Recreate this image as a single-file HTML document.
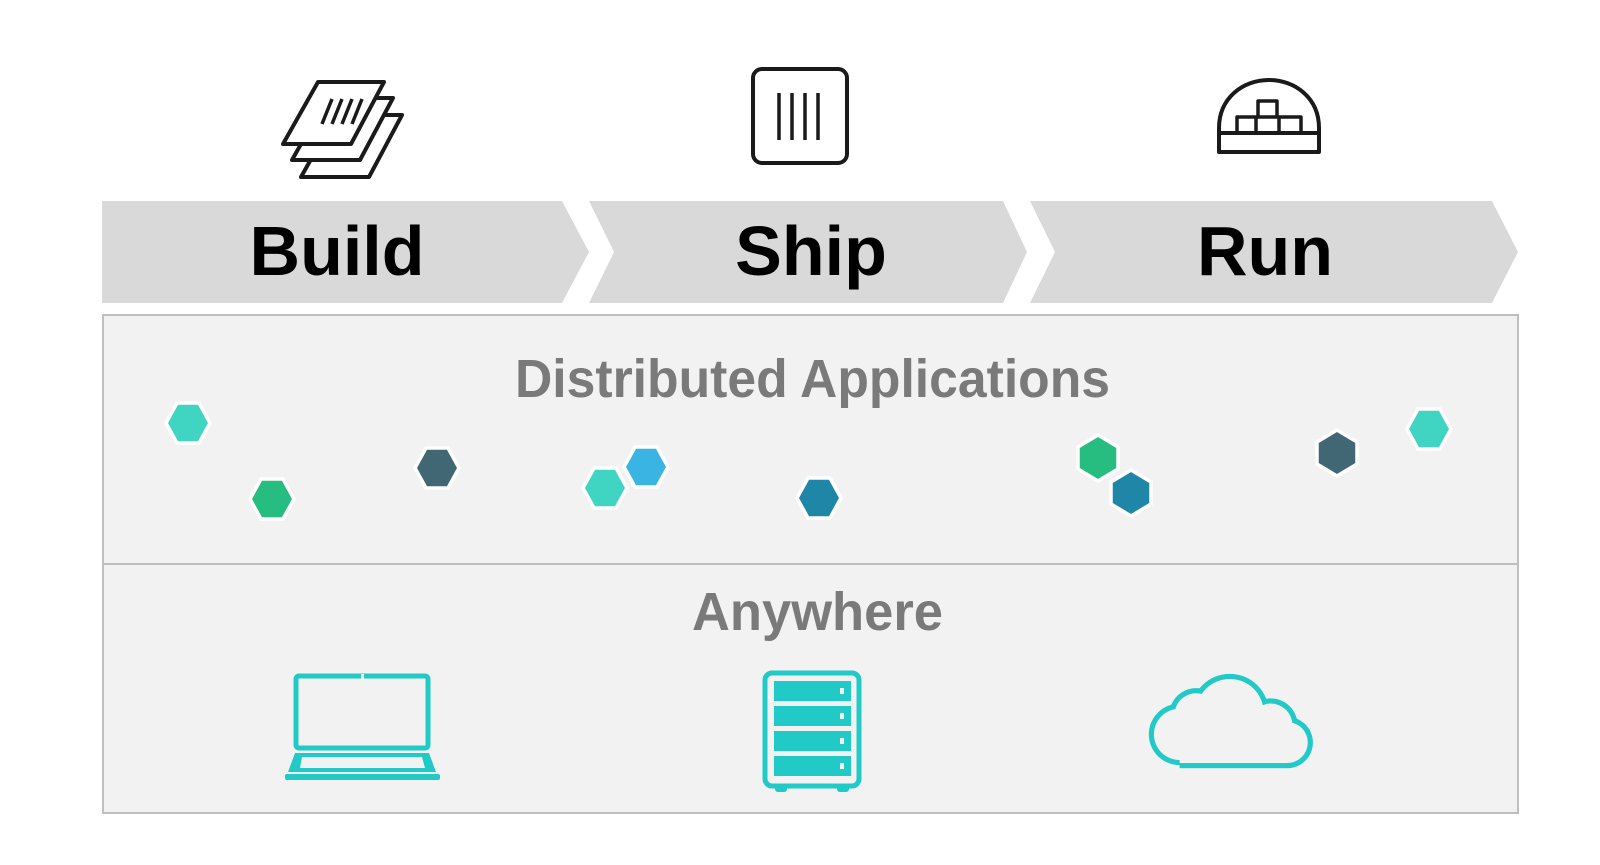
<!DOCTYPE html>
<html><head><meta charset="utf-8"><style>
html,body{margin:0;padding:0;background:#fff;width:1600px;height:865px;overflow:hidden}
svg{display:block}
</style></head><body>
<svg width="1600" height="865" viewBox="0 0 1600 865" xmlns="http://www.w3.org/2000/svg" font-family="Liberation Sans, sans-serif">
<!-- top icons -->
<g fill="#fff" stroke="#1a1a1a" stroke-width="4" stroke-linejoin="round">
  <polygon points="336,115 402,115 369,177 301,177"/>
  <polygon points="327,98 393,98 360,160 292,160"/>
  <polygon points="318,82 384,82 351,144 283,144"/>
  <path d="M332 99 L322 124 M342 99 L332 124 M352 99 L342 124 M362 99 L352 124" stroke-width="3.5" fill="none"/>
  <rect x="753" y="69" width="94" height="94" rx="9" fill="none"/>
  <path d="M779 93 V140 M792 93 V140 M805 93 V140 M818 93 V140" stroke-width="3.5" fill="none"/>
  <path d="M1219 152 V128 C1219 98 1243 80 1269 80 C1295 80 1319 98 1319 128 V152 Z" fill="none"/>
  <path d="M1219 133 H1319" fill="none"/>
  <path d="M1237 133 V117 H1301 V133 M1256 117 V133 M1279 117 V133 M1258 117 V101 H1277 V117" stroke-width="3.5" fill="none"/>
</g>
<!-- chevron band -->
<g fill="#d9d9d9">
  <polygon points="102,201 562,201 589,252 562,303 102,303"/>
  <polygon points="589,201 1003,201 1027,252 1003,303 589,303 614,252"/>
  <polygon points="1030,201 1492,201 1518,252 1492,303 1030,303 1055,252"/>
</g>
<g font-weight="bold" font-size="70" fill="#000" text-anchor="middle">
  <text x="337" y="275">Build</text>
  <text x="811" y="275">Ship</text>
  <text x="1265" y="275">Run</text>
</g>
<!-- panel -->
<rect x="103" y="315" width="1415" height="498" fill="#f2f2f2" stroke="#bfbfbf" stroke-width="2"/>
<line x1="103" y1="564" x2="1518" y2="564" stroke="#bfbfbf" stroke-width="2"/>
<text x="515" y="397" font-size="54" font-weight="bold" fill="#7a7a7a" textLength="595" lengthAdjust="spacingAndGlyphs">Distributed Applications</text>
<text x="692" y="630" font-size="54" font-weight="bold" fill="#7a7a7a" textLength="251" lengthAdjust="spacingAndGlyphs">Anywhere</text>
<!-- hexagons -->
<g stroke="#fff" stroke-width="3.5">
  <polygon transform="translate(188,423)" points="-22,0 -11,-20 11,-20 22,0 11,20 -11,20" fill="#40d4c2"/>
  <polygon transform="translate(272,499)" points="-22,0 -11,-20 11,-20 22,0 11,20 -11,20" fill="#28bd80"/>
  <polygon transform="translate(437,468)" points="-22,0 -11,-20 11,-20 22,0 11,20 -11,20" fill="#416674"/>
  <polygon transform="translate(646,467)" points="-22,0 -11,-20 11,-20 22,0 11,20 -11,20" fill="#3ab4e2"/>
  <polygon transform="translate(605,488)" points="-22,0 -11,-20 11,-20 22,0 11,20 -11,20" fill="#40d4c2"/>
  <polygon transform="translate(819,498)" points="-22,0 -11,-20 11,-20 22,0 11,20 -11,20" fill="#1f86a8"/>
  <polygon transform="translate(1098,458)" points="0,-23 20,-11 20,11 0,23 -20,11 -20,-11" fill="#28bd80"/>
  <polygon transform="translate(1131,493)" points="0,-23 20,-11 20,11 0,23 -20,11 -20,-11" fill="#1f86a8"/>
  <polygon transform="translate(1337,453)" points="0,-23 20,-11 20,11 0,23 -20,11 -20,-11" fill="#416674"/>
  <polygon transform="translate(1429,429)" points="-22,0 -11,-20 11,-20 22,0 11,20 -11,20" fill="#40d4c2"/>
</g>
<!-- bottom icons -->
<g fill="#21c9c7">
  <rect x="296" y="676" width="132" height="72" rx="3" fill="none" stroke="#21c9c7" stroke-width="5"/>
  <rect x="361" y="674" width="3" height="5" fill="#f2f2f2"/>
  <path d="M295 753 H429 L436 772 H288 Z"/>
  <path d="M302 757 H422 L425 768 H300 Z" fill="#f2f2f2"/>
  <rect x="341" y="765" width="40" height="3" fill="#f2f2f2"/>
  <rect x="285" y="774" width="155" height="6" rx="2"/>
  <rect x="765" y="673" width="94" height="113" rx="7" fill="none" stroke="#21c9c7" stroke-width="5"/>
  <rect x="774" y="681" width="77" height="20"/>
  <rect x="774" y="706" width="77" height="20"/>
  <rect x="774" y="731" width="77" height="20"/>
  <rect x="774" y="756" width="77" height="20"/>
  <g fill="#f2f2f2"><rect x="840" y="688" width="4" height="6"/><rect x="840" y="713" width="4" height="6"/><rect x="840" y="738" width="4" height="6"/><rect x="840" y="763" width="4" height="6"/></g>
  <rect x="775" y="785" width="12" height="7" rx="3"/>
  <rect x="837" y="785" width="12" height="7" rx="3"/>
</g>
<!-- cloud -->
<g transform="translate(-6,0) scale(1.0256)">
  <g fill="#21c9c7">
    <circle cx="1156" cy="716" r="30"/>
    <circle cx="1172" cy="697" r="26"/>
    <circle cx="1205" cy="695" r="38"/>
    <circle cx="1245" cy="707" r="26"/>
    <circle cx="1261" cy="724" r="25"/>
    <rect x="1156" y="712" width="105" height="37"/>
  </g>
  <g fill="#f2f2f2">
    <circle cx="1156" cy="716" r="25"/>
    <circle cx="1172" cy="697" r="21"/>
    <circle cx="1205" cy="695" r="33"/>
    <circle cx="1245" cy="707" r="21"/>
    <circle cx="1261" cy="724" r="20"/>
    <rect x="1156" y="712" width="105" height="32"/>
  </g>
</g>
</svg>
</body></html>
